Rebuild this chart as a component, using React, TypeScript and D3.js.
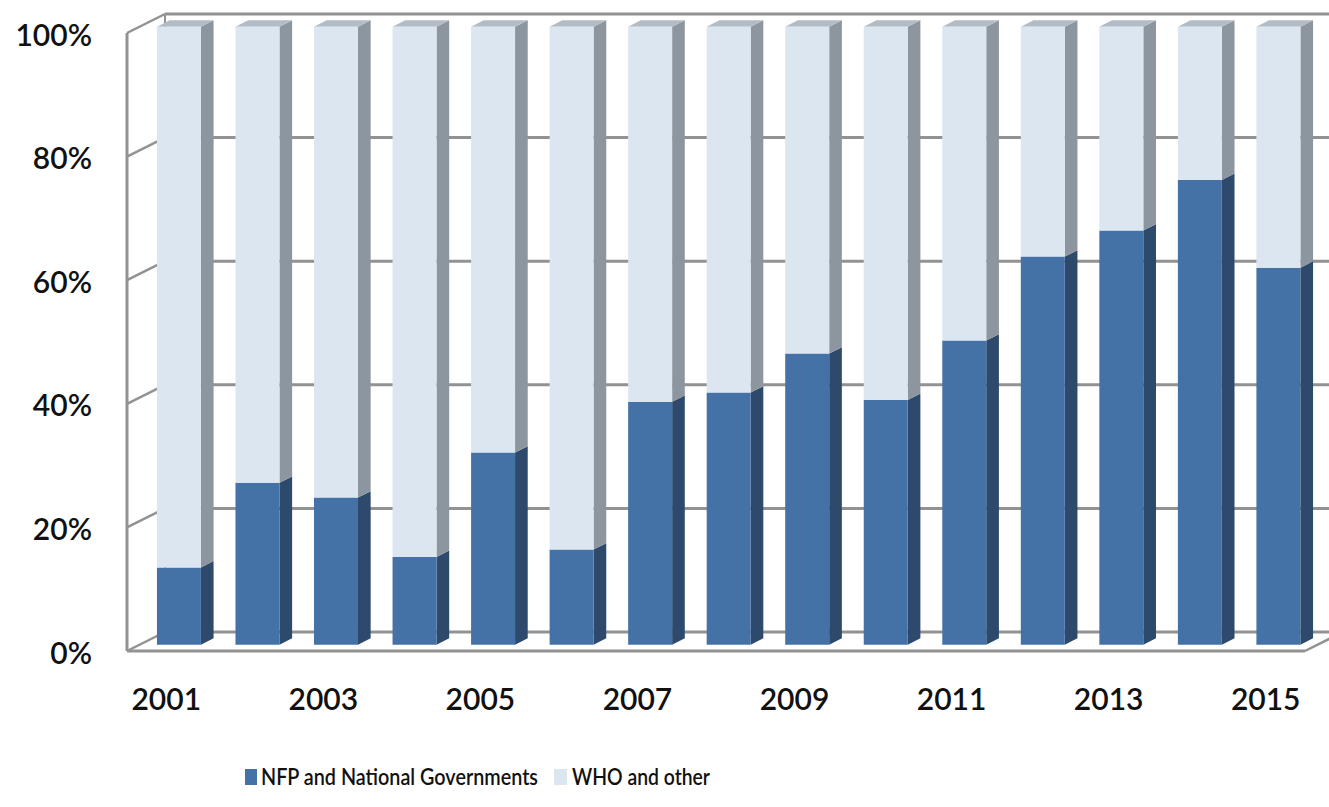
import React from 'react';
import * as d3 from 'd3';

const years = ['2001', '2002', '2003', '2004', '2005', '2006', '2007', '2008', '2009', '2010', '2011', '2012', '2013', '2014', '2015'];
// share of NFP and National Governments (rest is WHO and other)
const nfpShare = [0.125, 0.262, 0.238, 0.142, 0.311, 0.154, 0.393, 0.408, 0.471, 0.396, 0.492, 0.628, 0.67, 0.752, 0.61];
const yTicks = [0, 0.2, 0.4, 0.6, 0.8, 1];
const seriesNames = ['NFP and National Governments', 'WHO and other'];

const W = 1329;
const H = 807;
const DX = 38;
const DY = -19;
const font = 'Lato, "Open Sans", sans-serif';

const colors = {
  nfpFront: '#4572a6',
  nfpSide: '#2d4a6d',
  nfpTop: '#5f85b3',
  whoFront: '#dce6f1',
  whoSide: '#8d959e',
  whoTop: '#b3bbc4',
  grid: '#929292',
};

const App = () => {
  const x = d3.scaleBand().domain(years).range([127, 1305]).paddingInner(0.44).paddingOuter(0.22);
  const y = d3.scaleLinear().domain([0, 1]).range([651, 33]);
  const bw = x.bandwidth();

  const pt = (px: number, v: number, t: number) => `${px + DX * t},${y(v) + DY * t}`;

  // a box segment from v0 to v1 at front-plane x0, sitting between depth 1/3 and 2/3
  const box = (x0: number, v0: number, v1: number, front: string, side: string, top: string, key: string, showTop: boolean) => {
    const a = 1 / 3;
    const b = 2 / 3;
    const x1 = x0 + bw;
    return (
      <g key={key}>
        <polygon points={[pt(x1, v0, a), pt(x1, v0, b), pt(x1, v1, b), pt(x1, v1, a)].join(' ')} fill={side} />
        {showTop && (
          <polygon points={[pt(x0, v1, a), pt(x1, v1, a), pt(x1, v1, b), pt(x0, v1, b)].join(' ')} fill={top} />
        )}
        <polygon points={[pt(x0, v0, a), pt(x1, v0, a), pt(x1, v1, a), pt(x0, v1, a)].join(' ')} fill={front} />
      </g>
    );
  };

  const xl = 127;
  const xr = 1305;

  return (
    <div style={{ position: 'absolute', left: 0, top: 0 }}>
      <svg width={W} height={H} style={{ display: 'block', background: '#fff' }}>
        {/* back wall gridlines */}
        {yTicks.map((v) => (
          <line key={'g' + v} x1={xl + DX} x2={xr + DX} y1={y(v) + DY} y2={y(v) + DY} stroke={colors.grid} strokeWidth={3} />
        ))}
        {/* left wall */}
        {yTicks.map((v) => (
          <line key={'l' + v} x1={xl} x2={xl + DX} y1={y(v)} y2={y(v) + DY} stroke={colors.grid} strokeWidth={2.5} />
        ))}
        <line x1={xl} x2={xl} y1={y(0)} y2={y(1)} stroke={colors.grid} strokeWidth={3} />
        <line x1={xl + DX} x2={xl + DX} y1={y(0) + DY} y2={y(1) + DY} stroke={colors.grid} strokeWidth={2} />
        {/* floor */}
        <line x1={xl} x2={xr} y1={y(0)} y2={y(0)} stroke={colors.grid} strokeWidth={3} />
        <line x1={xr} x2={xr + DX} y1={y(0)} y2={y(0) + DY} stroke={colors.grid} strokeWidth={2.5} />

        {/* bars */}
        {years.map((yr, i) => {
          const x0 = x(yr) as number;
          const v = nfpShare[i];
          return (
            <g key={yr}>
              {box(x0, 0, v, colors.nfpFront, colors.nfpSide, colors.nfpTop, 'n', false)}
              {box(x0, v, 1, colors.whoFront, colors.whoSide, colors.whoTop, 'w', true)}
            </g>
          );
        })}

        {/* y axis labels */}
        {yTicks.map((v) => (
          <text key={'t' + v} x={92} y={y(v) + 5} textAnchor="end" dominantBaseline="middle" fontFamily={font} fontSize={30} fontWeight={600} fill="#111">
            {d3.format('.0%')(v)}
          </text>
        ))}
        {/* x axis labels, odd years only */}
        {years.map((yr, i) =>
          i % 2 === 0 ? (
            <text key={'x' + yr} x={(x(yr) as number) + bw / 2} y={710} textAnchor="middle" fontFamily={font} fontSize={30} fontWeight={600} fill="#111">
              {yr}
            </text>
          ) : null
        )}

        {/* legend */}
        <g fontFamily={font} fontSize={23} fontWeight={600} fill="#111">
          <rect x={245} y={769} width={12} height={16} fill={colors.nfpFront} />
          <text x={261} y={785} textLength={277} lengthAdjust="spacingAndGlyphs">{seriesNames[0]}</text>
          <rect x={554} y={769} width={13} height={16} fill={colors.whoFront} />
          <text x={572} y={785} textLength={138} lengthAdjust="spacingAndGlyphs">{seriesNames[1]}</text>
        </g>
      </svg>
    </div>
  );
};

export default App;
